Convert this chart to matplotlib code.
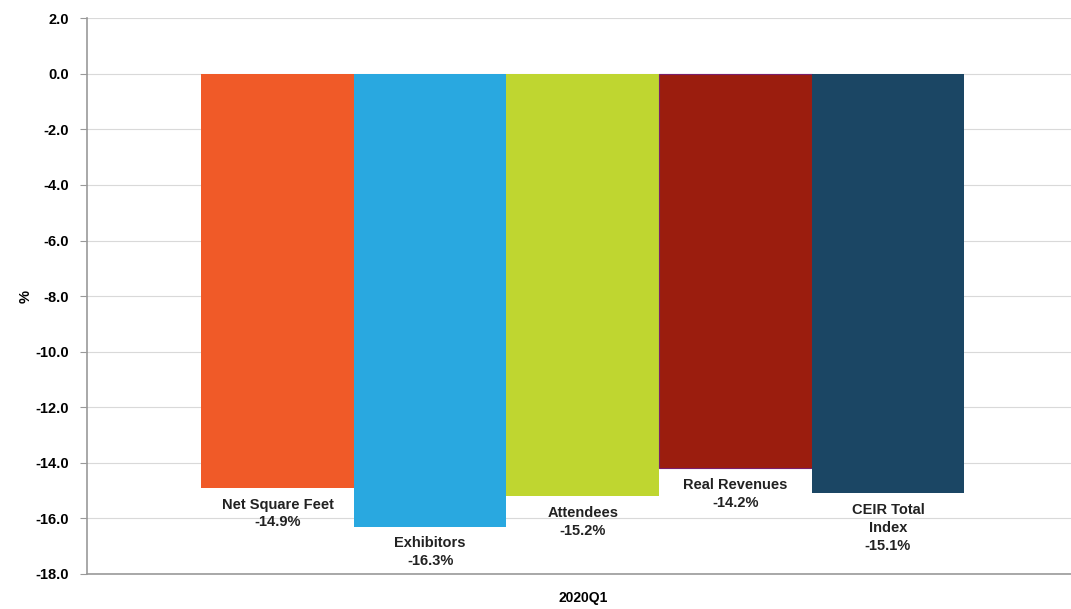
import matplotlib.pyplot as plt
import numpy as np

plt.rcParams['font.family'] = ['Liberation Sans Narrow', 'Liberation Sans', 'DejaVu Sans']

categories = ["Net Square Feet", "Exhibitors", "Attendees", "Real Revenues", "CEIR Total\nIndex"]
values = [-14.9, -16.3, -15.2, -14.2, -15.1]
colors = ["#F05A28", "#29A8E0", "#BFD630", "#9B1D0E", "#1B4664"]
period = "2020Q1"
yticks = np.arange(-18, 2.1, 2)

fig = plt.figure(figsize=(10.71, 6.09), dpi=100)
ax = fig.add_axes([0.081, 0.0575, 0.919, 0.9125])

x = np.arange(len(values)) - 2
bars = ax.bar(x, values, width=1.0, color=colors, zorder=3)
bars[3].set_edgecolor("#7A1F6A")
bars[3].set_linewidth(0.8)

for xi, v, name in zip(x, values, categories):
    ax.annotate(f"{name}\n{v:.1f}%", (xi, v), xytext=(0, -7), textcoords="offset points",
                ha="center", va="top", fontsize=10.5, fontweight="bold", color="#222222",
                linespacing=1.35)

ax.set_xlim(-3.25, 3.2)
ax.set_ylim(-18, 2)
ax.set_yticks(yticks)
ax.set_yticklabels([f"{t:.1f}" for t in yticks], fontsize=10.5, fontweight="bold")
ax.set_xticks([0])
ax.set_xticklabels([period], fontsize=10, fontweight="bold")
ax.tick_params(axis="x", length=0, pad=12)
ax.tick_params(axis="y", length=5, color="#999999", pad=8)
ax.set_ylabel("%", fontsize=10.5, fontweight="bold", labelpad=2)

ax.grid(axis="y", color="#d9d9d9", linewidth=0.8, zorder=0)
for side in ["top", "right"]:
    ax.spines[side].set_visible(False)
for side in ["left", "bottom"]:
    ax.spines[side].set_color("#999999")
    ax.spines[side].set_linewidth(1.2)

fig.savefig("out.png", dpi=100)
